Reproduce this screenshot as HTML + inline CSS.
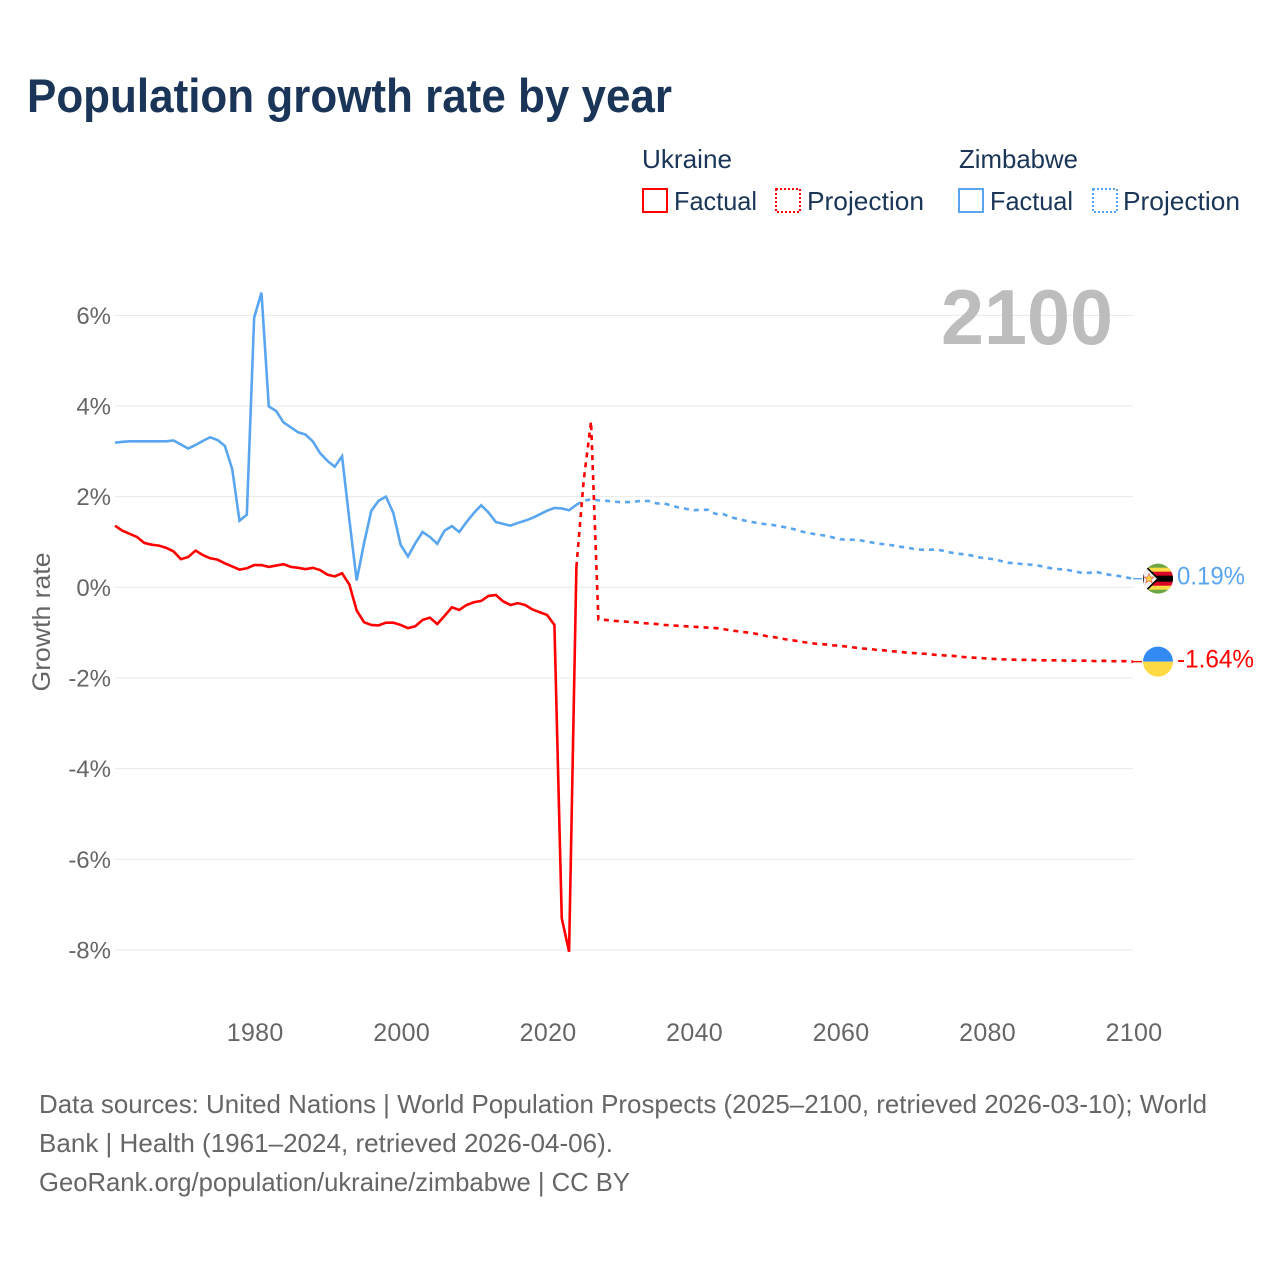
<!DOCTYPE html>
<html lang="en">
<head>
<meta charset="utf-8">
<title>Population growth rate by year</title>
<style>
html,body{margin:0;padding:0;background:#fff;}
svg{display:block;font-family:"Liberation Sans",sans-serif;}
</style>
</head>
<body>
<svg id="chart" xmlns="http://www.w3.org/2000/svg" width="1280" height="1280" viewBox="0 0 1280 1280">
  <defs>
    <clipPath id="flag-clip-zw"><circle cx="0" cy="0" r="15"/></clipPath>
    <clipPath id="flag-clip-ua"><circle cx="0" cy="0" r="15"/></clipPath>
  </defs>
  <rect x="0" y="0" width="1280" height="1280" fill="#ffffff"/>

  <text x="27" y="112" font-size="47" font-weight="700" fill="#1a3557" textLength="645" lengthAdjust="spacingAndGlyphs">Population growth rate by year</text>

  <g font-size="26" fill="#1a3557">
    <text x="642" y="168" textLength="90" lengthAdjust="spacingAndGlyphs">Ukraine</text>
    <text x="959" y="168" textLength="119" lengthAdjust="spacingAndGlyphs">Zimbabwe</text>

    <rect x="643" y="189" width="24" height="23" fill="none" stroke="#ff0000" stroke-width="2"/>
    <text x="674" y="210" textLength="83" lengthAdjust="spacingAndGlyphs">Factual</text>
    <rect x="776" y="189" width="24" height="23" fill="none" stroke="#ff0000" stroke-width="2" stroke-dasharray="2 2"/>
    <text x="807" y="210" textLength="117" lengthAdjust="spacingAndGlyphs">Projection</text>

    <rect x="959" y="189" width="24" height="23" fill="none" stroke="#5aa5f0" stroke-width="2"/>
    <text x="990" y="210" textLength="83" lengthAdjust="spacingAndGlyphs">Factual</text>
    <rect x="1093" y="189" width="24" height="23" fill="none" stroke="#5aa5f0" stroke-width="2" stroke-dasharray="2 2"/>
    <text x="1123" y="210" textLength="117" lengthAdjust="spacingAndGlyphs">Projection</text>
  </g>

  <g id="grid"></g>
  <g id="y-ticks" font-size="24" fill="#666666" text-anchor="end"></g>
  <g id="x-ticks" font-size="25" fill="#666666" text-anchor="middle" letter-spacing="0.3"></g>

  <text transform="translate(50,622) rotate(-90)" text-anchor="middle" font-size="25" fill="#666666" textLength="139" lengthAdjust="spacingAndGlyphs">Growth rate</text>

  <text x="941" y="344" font-size="78" font-weight="700" fill="#bdbdbd" textLength="172" lengthAdjust="spacingAndGlyphs">2100</text>

  <g id="series"></g>

  <g id="flag-zw">
    <g clip-path="url(#flag-clip-zw)">
      <rect x="-16" y="-16" width="32" height="32" fill="#6da544"/>
      <rect x="-16" y="-11" width="32" height="22" fill="#ffda44"/>
      <rect x="-16" y="-7" width="32" height="14" fill="#d80027"/>
      <rect x="-16" y="-3" width="32" height="6" fill="#000000"/>
      <polygon points="-15,-15 0,0 -15,15" fill="#f0f0f0" stroke="#000000" stroke-width="1.6"/>
      <polygon points="-9,-5 -7.6,-1.6 -4,-1.6 -6.8,0.6 -5.8,4 -9,2 -12.2,4 -11.2,0.6 -14,-1.6 -10.4,-1.6" fill="#ffda44" stroke="#e8504a" stroke-width="0.6"/>
    </g>
  </g>
  <g id="flag-ua">
    <g clip-path="url(#flag-clip-ua)">
      <rect x="-16" y="-16" width="32" height="16" fill="#338af3"/>
      <rect x="-16" y="0" width="32" height="16" fill="#ffda44"/>
    </g>
  </g>

  <text id="end-label-zw" x="1177" font-size="25" fill="#5aa5f0" textLength="68" lengthAdjust="spacingAndGlyphs"></text>
  <text id="end-label-ua" x="1177" font-size="25" fill="#ff0000" textLength="77" lengthAdjust="spacingAndGlyphs"></text>

  <g font-size="26" fill="#666666">
    <text x="39" y="1113" textLength="1168" lengthAdjust="spacingAndGlyphs">Data sources: United Nations | World Population Prospects (2025–2100, retrieved 2026-03-10); World</text>
    <text x="39" y="1152" textLength="574" lengthAdjust="spacingAndGlyphs">Bank | Health (1961–2024, retrieved 2026-04-06).</text>
    <text x="39" y="1191" textLength="591" lengthAdjust="spacingAndGlyphs">GeoRank.org/population/ukraine/zimbabwe | CC BY</text>
  </g>
</svg>

<script>
const firstYear = 1961;
const lastFactualYear = 2024;
const lastYear = 2100;

const yTickValues = [6, 4, 2, 0, -2, -4, -6, -8];
const yTickLabels = ['6%', '4%', '2%', '0%', '-2%', '-4%', '-6%', '-8%'];
const xTickValues = [1980, 2000, 2020, 2040, 2060, 2080, 2100];
const xTickLabels = ['1980', '2000', '2020', '2040', '2060', '2080', '2100'];

// 1961 – 2024
const ukraineFactual = [
  1.36, 1.25, 1.18, 1.11, 0.98, 0.94, 0.92, 0.87, 0.79,
  0.62, 0.67, 0.81, 0.71, 0.64, 0.61, 0.53, 0.46, 0.39, 0.42,
  0.49, 0.49, 0.45, 0.48, 0.51, 0.45, 0.43, 0.40, 0.43, 0.38,
  0.28, 0.24, 0.31, 0.06, -0.51, -0.77, -0.83, -0.84, -0.78, -0.78,
  -0.83, -0.90, -0.86, -0.72, -0.67, -0.81, -0.63, -0.44, -0.50, -0.39,
  -0.33, -0.30, -0.19, -0.17, -0.31, -0.39, -0.35, -0.39, -0.49, -0.55,
  -0.61, -0.83, -7.30, -8.04, 0.45
];

// 2025 – 2100
const ukraineProjection = [
  2.36, 3.66, -0.71, -0.72, -0.74,
  -0.75, -0.76, -0.77, -0.79, -0.80, -0.81, -0.83, -0.84, -0.85, -0.86,
  -0.87, -0.88, -0.89, -0.90, -0.92, -0.95, -0.97, -0.99, -1.01, -1.04,
  -1.08, -1.10, -1.13, -1.16, -1.18, -1.21, -1.23, -1.25, -1.26, -1.28,
  -1.29, -1.31, -1.33, -1.35, -1.36, -1.38, -1.39, -1.41, -1.42, -1.44,
  -1.45, -1.46, -1.47, -1.49, -1.50, -1.51, -1.52, -1.54, -1.55, -1.56,
  -1.57, -1.58, -1.59, -1.59, -1.60, -1.60, -1.60, -1.61, -1.61, -1.61,
  -1.61, -1.62, -1.62, -1.62, -1.62, -1.63, -1.62, -1.63, -1.63, -1.63,
  -1.64
];

// 1961 – 2024
const zimbabweFactual = [
  3.19, 3.21, 3.22, 3.22, 3.22, 3.22, 3.22, 3.22, 3.24,
  3.15, 3.06, 3.14, 3.23, 3.31, 3.25, 3.12, 2.61, 1.47, 1.60,
  5.95, 6.50, 3.99, 3.89, 3.64, 3.53, 3.42, 3.37, 3.22, 2.96,
  2.79, 2.66, 2.89, 1.49, 0.15, 0.97, 1.69, 1.91, 2.00, 1.64,
  0.94, 0.68, 0.97, 1.22, 1.11, 0.96, 1.25, 1.35, 1.22, 1.44,
  1.64, 1.81, 1.65, 1.44, 1.40, 1.36, 1.42, 1.47, 1.53, 1.61,
  1.69, 1.75, 1.74, 1.70, 1.82
];

// 2025 – 2100
const zimbabweProjection = [
  1.91, 1.94, 1.92, 1.91, 1.89,
  1.88, 1.88, 1.89, 1.91, 1.90, 1.85, 1.85, 1.80, 1.76, 1.73,
  1.70, 1.71, 1.71, 1.62, 1.62, 1.55, 1.51, 1.47, 1.44, 1.41,
  1.39, 1.37, 1.34, 1.31, 1.27, 1.22, 1.19, 1.16, 1.14, 1.10,
  1.06, 1.05, 1.05, 1.03, 1.00, 0.97, 0.95, 0.93, 0.90, 0.88,
  0.85, 0.83, 0.83, 0.83, 0.81, 0.77, 0.74, 0.73, 0.70, 0.66,
  0.64, 0.62, 0.58, 0.54, 0.53, 0.51, 0.50, 0.48, 0.45, 0.41,
  0.40, 0.385, 0.35, 0.32, 0.32, 0.34, 0.30, 0.27, 0.25, 0.22,
  0.19
];

const SVGNS = 'http://www.w3.org/2000/svg';

function xScale(year) {
  return 115 + (year - firstYear) * (1133 - 115) / (lastYear - firstYear);
}
function yScale(value) {
  return 587.3 - value * 45.33;
}
function pathFrom(values, startYear) {
  return values.map(function (v, i) {
    return (i === 0 ? 'M' : 'L') + xScale(startYear + i).toFixed(2) + ' ' + yScale(v).toFixed(2);
  }).join(' ');
}

const gridGroup = document.getElementById('grid');
const yTickGroup = document.getElementById('y-ticks');
yTickValues.forEach(function (v, i) {
  const line = document.createElementNS(SVGNS, 'line');
  
  
  line.setAttribute('x1', 115);
  line.setAttribute('x2', 1133);
  line.setAttribute('y1', yScale(v));
  line.setAttribute('y2', yScale(v));
  line.setAttribute('stroke', '#e8e8e8');
  line.setAttribute('stroke-width', '1');
  gridGroup.appendChild(line);

  const label = document.createElementNS(SVGNS, 'text');
  
  
  label.setAttribute('x', 111);
  label.setAttribute('y', yScale(v) + 8.5);
  label.textContent = yTickLabels[i];
  yTickGroup.appendChild(label);
});

const xTickGroup = document.getElementById('x-ticks');
xTickValues.forEach(function (yr, i) {
  const label = document.createElementNS(SVGNS, 'text');
  
  
  label.setAttribute('x', xScale(yr) + 1);
  label.setAttribute('y', 1041);
  label.textContent = xTickLabels[i];
  xTickGroup.appendChild(label);
});

const seriesGroup = document.getElementById('series');

const zwProjectionLine = document.createElementNS(SVGNS, 'path');


zwProjectionLine.setAttribute('d', pathFrom([zimbabweFactual[zimbabweFactual.length - 1]].concat(zimbabweProjection), lastFactualYear));
zwProjectionLine.setAttribute('fill', 'none');
zwProjectionLine.setAttribute('stroke', '#5aa5f0');
zwProjectionLine.setAttribute('stroke-width', '2.6');
zwProjectionLine.setAttribute('stroke-dasharray', '5 5');
seriesGroup.appendChild(zwProjectionLine);

const zwFactualLine = document.createElementNS(SVGNS, 'path');


zwFactualLine.setAttribute('d', pathFrom(zimbabweFactual, firstYear));
zwFactualLine.setAttribute('fill', 'none');
zwFactualLine.setAttribute('stroke', '#5aa5f0');
zwFactualLine.setAttribute('stroke-width', '2.6');
seriesGroup.appendChild(zwFactualLine);

const uaProjectionLine = document.createElementNS(SVGNS, 'path');


uaProjectionLine.setAttribute('d', pathFrom([ukraineFactual[ukraineFactual.length - 1]].concat(ukraineProjection), lastFactualYear));
uaProjectionLine.setAttribute('fill', 'none');
uaProjectionLine.setAttribute('stroke', '#ff0000');
uaProjectionLine.setAttribute('stroke-width', '2.6');
uaProjectionLine.setAttribute('stroke-dasharray', '5 5');
seriesGroup.appendChild(uaProjectionLine);

const uaFactualLine = document.createElementNS(SVGNS, 'path');


uaFactualLine.setAttribute('d', pathFrom(ukraineFactual, firstYear));
uaFactualLine.setAttribute('fill', 'none');
uaFactualLine.setAttribute('stroke', '#ff0000');
uaFactualLine.setAttribute('stroke-width', '2.6');
seriesGroup.appendChild(uaFactualLine);

const zwEnd = zimbabweProjection[zimbabweProjection.length - 1];
const uaEnd = ukraineProjection[ukraineProjection.length - 1];

const zwConnector = document.createElementNS(SVGNS, 'line');


zwConnector.setAttribute('x1', xScale(lastYear));
zwConnector.setAttribute('x2', 1142);
zwConnector.setAttribute('y1', yScale(zwEnd));
zwConnector.setAttribute('y2', yScale(zwEnd));
zwConnector.setAttribute('stroke', '#5aa5f0');
zwConnector.setAttribute('stroke-width', '1.4');
seriesGroup.appendChild(zwConnector);

const uaConnector = document.createElementNS(SVGNS, 'line');


uaConnector.setAttribute('x1', xScale(lastYear));
uaConnector.setAttribute('x2', 1142);
uaConnector.setAttribute('y1', yScale(uaEnd));
uaConnector.setAttribute('y2', yScale(uaEnd));
uaConnector.setAttribute('stroke', '#ff0000');
uaConnector.setAttribute('stroke-width', '1.4');
seriesGroup.appendChild(uaConnector);

document.getElementById('flag-zw').setAttribute('transform', 'translate(1158,' + yScale(zwEnd) + ')');
document.getElementById('flag-ua').setAttribute('transform', 'translate(1158,' + yScale(uaEnd) + ')');

const zwLabel = document.getElementById('end-label-zw');
zwLabel.setAttribute('y', yScale(zwEnd) + 6);
zwLabel.textContent = zwEnd.toFixed(2) + '%';
const uaLabel = document.getElementById('end-label-ua');
uaLabel.setAttribute('y', yScale(uaEnd) + 6);
uaLabel.textContent = uaEnd.toFixed(2) + '%';
</script>
</body>
</html>
